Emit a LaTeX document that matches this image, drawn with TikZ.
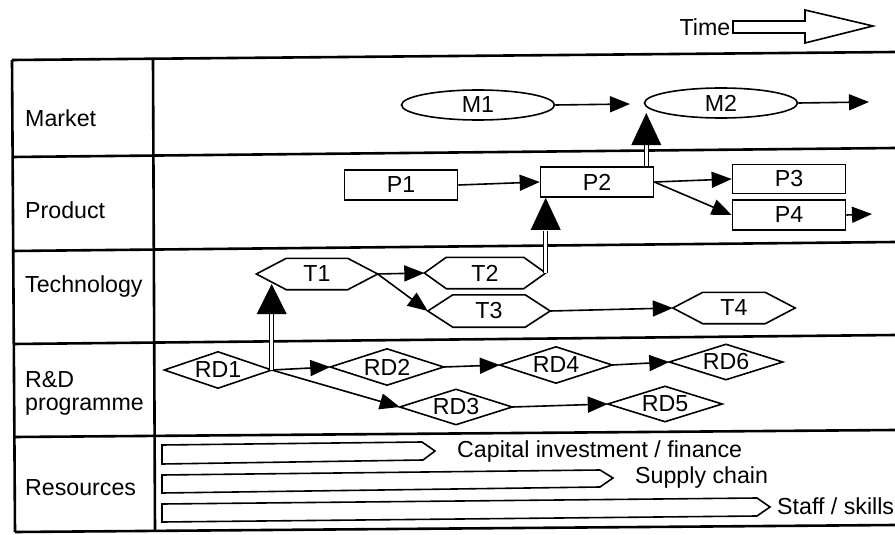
\documentclass[tikz,border=0pt]{standalone}
\usepackage{fontspec}
\setmainfont{Liberation Sans}
\usetikzlibrary{shapes.geometric,arrows.meta,calc}
\newcommand\hexoutline[2]{\draw[shapeline] (#1.west) -- ([xshift=#2]#1.north west) -- ([xshift=-#2]#1.north east) -- (#1.east) -- ([xshift=-#2]#1.south east) -- ([xshift=#2]#1.south west) -- cycle;}
\newcommand\diaoutline[1]{\draw[shapeline] (#1.west) -- (#1.north) -- (#1.east) -- (#1.south) -- cycle;}
\begin{document}
\begin{tikzpicture}[x=1pt,y=-1pt,
  every node/.style={font=\fontsize{23.2}{26}\selectfont, inner sep=0pt},
  grid/.style={line width=2.6pt},
  lbl/.style={anchor=west},
  box/.style={draw, line width=1.6pt, minimum width=113pt, minimum height=30pt},
  oval/.style={draw, ellipse, line width=1.6pt, minimum width=153pt, minimum height=30pt},
  hexbox/.style={minimum width=121pt, minimum height=31pt},
  dia/.style={minimum width=112pt, minimum height=36pt},
  flow/.style={line width=1.6pt, -{Triangle[length=20pt,width=16pt]}},
  dbl/.style={double, double distance=2.6pt, line width=1.4pt},
  bighead/.style={fill=black},
  shapeline/.style={line width=1.6pt, line join=miter}
]
\useasboundingbox (0,0) rectangle (895,535);

% table
\draw[grid] (12,60) -- (895,52);
\draw[grid] (12,157) -- (895,148);
\draw[grid] (12,251) -- (895,242);
\draw[grid] (13,344) -- (895,335);
\draw[grid] (14,437) -- (895,430);
\draw[grid] (15,532) -- (895,525);
\draw[grid] (12,60) -- (15,532);
\draw[grid] (153,59) -- (155,531);

% row labels
\node[lbl] (lmarket) at (25,118) {Market};
\node[lbl] (lproduct) at (25,210) {Product};
\node[lbl] (ltech) at (25,287) {Technology};
\node[lbl] (lrd1) at (25,380) {R\&D};
\node[lbl] (lrd2) at (25,407) {programme};
\node[lbl] (lres) at (25,488) {Resources};

% time arrow
\node (time) at (705,27) {Time};
\draw[shapeline] (733,21) -- (805,21) -- (805,10) -- (873,26) -- (805,43) -- (805,33) -- (733,33) -- cycle;

% market
\node[oval] (M1) at (478,105) {M1};
\node[oval] (M2) at (721,103) {M2};
\coordinate (m1end) at (630,104);
\coordinate (m2end) at (869,102);
\draw[flow] (M1.east) -- (m1end);
\draw[flow] (M2.east) -- (m2end);

% product
\node[box] (P1) at (401,185) {P1};
\node[box] (P2) at (597,182) {P2};
\node[box, minimum height=29pt] (P3) at (789,179) {P3};
\node[box] (P4) at (789,215) {P4};
\coordinate (p4end) at (872,214);
\draw[flow] (P1.east) -- (P2.west);
\draw[flow] (P2.east) -- (P3.west);
\draw[flow] (P2.east) -- (P4.west);
\draw[flow] (P4.east) -- (p4end);

% technology
\node[hexbox] (T1) at (317,274) {T1};
\node[hexbox] (T2) at (485,273) {T2};
\node[hexbox, minimum width=122pt, minimum height=32pt] (T3) at (489,311) {T3};
\node[hexbox, minimum width=122pt] (T4) at (734,308) {T4};
\hexoutline{T1}{30pt}
\hexoutline{T2}{22pt}
\hexoutline{T3}{25pt}
\hexoutline{T4}{30pt}
\draw[flow] (T1.east) -- (T2.west);
\draw[flow] (T1.east) -- (T3.west);
\draw[flow] (T3.east) -- (T4.west);

% R&D
\node[dia, minimum width=107pt] (RD1) at (218,370) {RD1};
\node[dia, minimum width=113pt] (RD2) at (387,367) {RD2};
\node[dia, minimum height=35pt] (RD3) at (456,407) {RD3};
\node[dia] (RD4) at (556,365) {RD4};
\node[dia, minimum width=114pt, minimum height=35pt] (RD5) at (665,404) {RD5};
\node[dia, minimum width=113pt, minimum height=35pt] (RD6) at (726,362) {RD6};
\diaoutline{RD1}
\diaoutline{RD2}
\diaoutline{RD3}
\diaoutline{RD4}
\diaoutline{RD5}
\diaoutline{RD6}
\draw[flow] (RD1.east) -- (RD2.west);
\draw[flow] (RD1.east) -- (RD3.west);
\draw[flow] (RD2.east) -- (RD4.west);
\draw[flow] (RD4.east) -- (RD6.west);
\draw[flow] (RD3.east) -- (RD5.west);

% big double arrows
\coordinate (t1tip) at (RD1.east |- 0,284);
\coordinate (t1base) at (RD1.east |- 0,314);
\draw[dbl] (RD1.east) -- (t1base);
\fill[bighead] (t1tip) -- ++(-15,30) -- ++(30,0) -- cycle;

\coordinate (p2tip) at (T2.east |- P2.south);
\coordinate (p2base) at (T2.east |- 0,231);
\draw[dbl] (T2.east) -- (p2base);
\fill[bighead] (p2tip) -- ++(-15,32) -- ++(30,0) -- cycle;

\coordinate (m2src) at ($(P2.north east)+(-8,0)$);
\coordinate (m2tip) at (m2src |- 0,113);
\coordinate (m2base) at (m2src |- 0,145);
\draw[dbl] (m2src) -- (m2base);
\fill[bighead] (m2tip) -- ++(-15,32) -- ++(30,0) -- cycle;

% resources
\draw[shapeline] (162,445) -- (422,442) -- (435,451) -- (423,460) -- (162,464) -- cycle;
\draw[shapeline] (162,475) -- (600,470) -- (613,478) -- (600,487) -- (162,493) -- cycle;
\draw[shapeline] (162,504) -- (757,498) -- (770,507) -- (757,516) -- (162,522) -- cycle;
\node[lbl] (rcap) at (457,451) {Capital investment / finance};
\node[lbl] (rsup) at (635,477) {Supply chain};
\node[lbl] (rstaff) at (777,506) {Staff / skills};
\end{tikzpicture}
\end{document}
